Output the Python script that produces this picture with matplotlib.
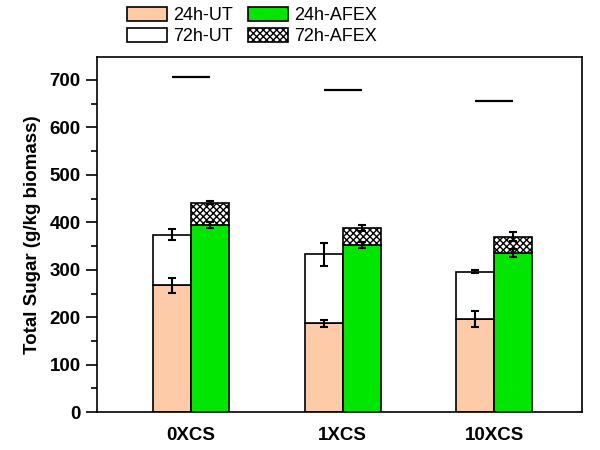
import matplotlib.pyplot as plt
import numpy as np

plt.rcParams['font.family'] = ['Liberation Sans', 'DejaVu Sans']

# data
groups = ['0XCS', '1XCS', '10XCS']
ut_24 = [267, 187, 197]
ut_24_err = [16, 7, 17]
ut_72 = [374, 333, 296]
ut_72_err = [12, 24, 3]
afex_24 = [394, 352, 335]
afex_24_err = [6, 6, 8]
afex_72 = [441, 388, 370]
afex_72_err = [3, 6, 10]
max_sugar = [706, 678, 655]

peach = '#FDCBA8'
green = '#00E600'
width = 0.25

x = np.arange(1, len(groups) + 1)
x_ut = x - width / 2
x_afex = x + width / 2

fig = plt.figure(figsize=(6, 4.5), dpi=100)
ax = fig.add_axes([0.162, 0.084, 0.808, 0.789])

ut_inc = np.array(ut_72) - np.array(ut_24)
afex_inc = np.array(afex_72) - np.array(afex_24)

b1 = ax.bar(x_ut, ut_24, width, color=peach, edgecolor='black', linewidth=1.2, label='24h-UT')
b2 = ax.bar(x_ut, ut_inc, width, bottom=ut_24, color='white', edgecolor='black', linewidth=1.2, label='72h-UT')
b3 = ax.bar(x_afex, afex_24, width, color=green, edgecolor='black', linewidth=1.2, label='24h-AFEX')
b4 = ax.bar(x_afex, afex_inc, width, bottom=afex_24, color='white', edgecolor='black',
            linewidth=1.2, hatch='xxxxx', label='72h-AFEX')

err_kw = dict(fmt='none', ecolor='black', elinewidth=1.5, capsize=3, capthick=1.5)
ax.errorbar(x_ut, ut_24, yerr=ut_24_err, **err_kw)
ax.errorbar(x_ut, ut_72, yerr=ut_72_err, **err_kw)
ax.errorbar(x_afex, afex_24, yerr=afex_24_err, **err_kw)
ax.errorbar(x_afex, afex_72, yerr=afex_72_err, **err_kw)

ax.hlines(max_sugar, x - width / 2, x + width / 2, colors='black', linewidth=1.6)

ax.set_xlim(0.38, 3.58)
ax.set_ylim(0, 748)
ax.set_xticks(x)
ax.set_xticklabels(groups, fontsize=13.5, fontweight='bold')
ax.set_yticks(np.arange(0, 701, 100))
ax.set_yticks(np.arange(50, 701, 100), minor=True)
for lab in ax.get_yticklabels():
    lab.set_fontsize(13.5)
    lab.set_fontweight('bold')
ax.tick_params(axis='y', which='major', length=8, width=1.2, direction='out', pad=4)
ax.tick_params(axis='y', which='minor', length=4, width=1.2, direction='out')
ax.tick_params(axis='x', length=0, pad=11)
ax.set_ylabel('Total Sugar (g/kg biomass)', fontsize=13.5, fontweight='bold', labelpad=6)
for sp in ax.spines.values():
    sp.set_linewidth(1.2)

fig.legend(handles=[b1, b2, b3, b4], loc='upper left', bbox_to_anchor=(0.191, 1.012),
           ncol=2, frameon=False, fontsize=13, handlelength=2.2, handleheight=0.8,
           handletextpad=0.35, columnspacing=0.85, labelspacing=0.2, borderpad=0.2)

fig.savefig('out.png', dpi=100)
